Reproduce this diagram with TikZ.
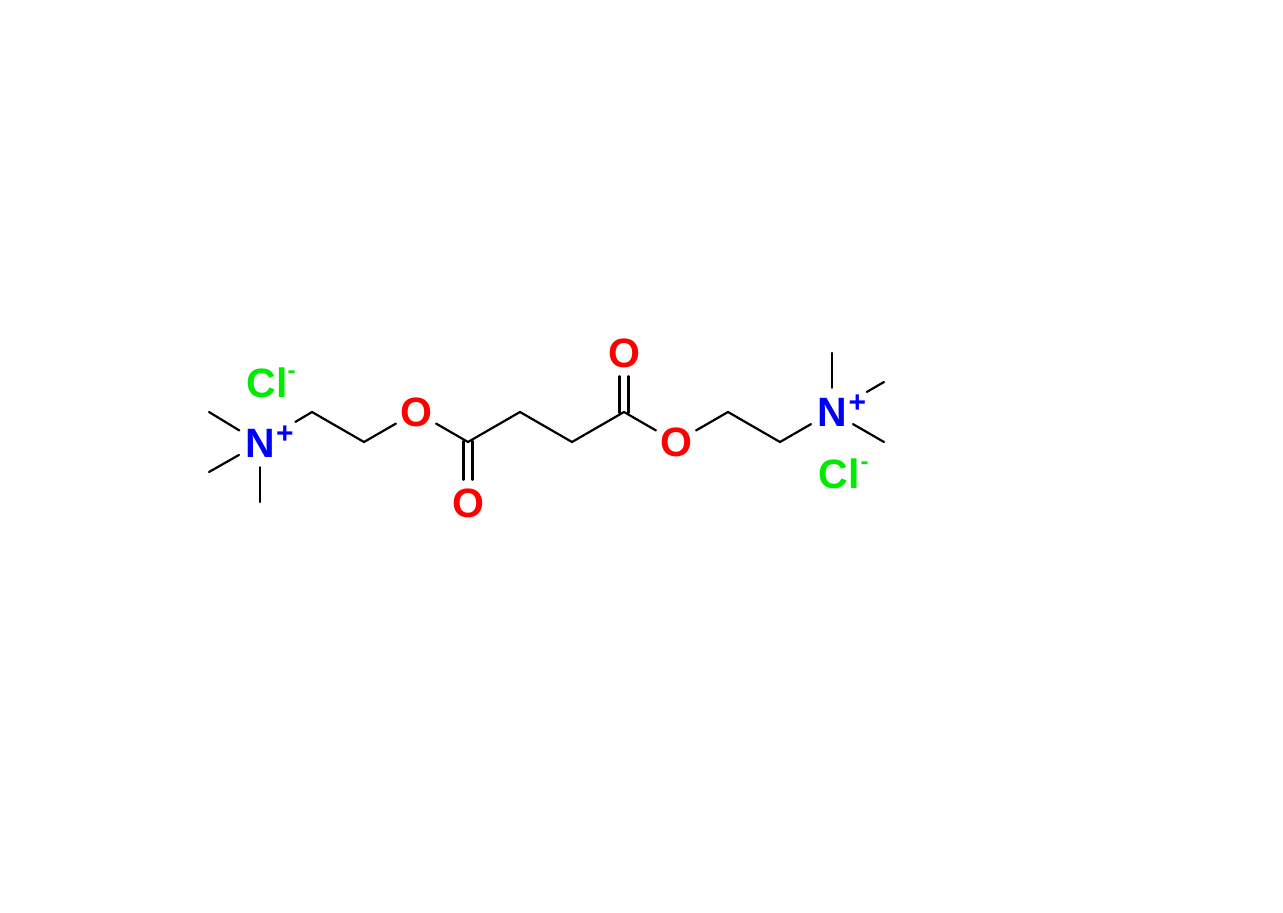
\documentclass[tikz,border=0pt]{standalone}
\usepackage{fontspec}
\setmainfont{Liberation Sans}
\begin{document}
\begin{tikzpicture}[x=1pt,y=-1pt,
  bond/.style={line width=2.2pt, line cap=round, line join=miter, black},
  atom/.style={circle, inner sep=0pt, minimum size=46pt, font=\bfseries\fontsize{41}{41}\selectfont},
  natom/.style={atom, minimum size=48pt, text=nblue},
  oatom/.style={atom, text=ored},
  clatom/.style={inner sep=0pt, font=\bfseries\fontsize{41}{41}\selectfont, text=clgreen},
  chgplus/.style={inner sep=0pt, font=\bfseries\fontsize{30}{30}\selectfont, text=nblue},
  chgminus/.style={inner sep=0pt, anchor=base, font=\bfseries\fontsize{24}{24}\selectfont, text=clgreen}]
\definecolor{nblue}{RGB}{0,0,255}
\definecolor{ored}{RGB}{255,0,0}
\definecolor{clgreen}{RGB}{0,235,0}
\useasboundingbox (0,0) rectangle (1283,913);
\fill[white] (0,0) rectangle (1283,913);
% atoms
\node[natom] (N1) at (260,443) {N};
\node[chgplus] (P1) at (285,435) {+};
\coordinate (Me1) at (209,412);
\coordinate (Me2) at (209,472);
\coordinate (Me3) at (260,502);
\coordinate (C1) at (312,412);
\coordinate (C2) at (364,442);
\node[oatom] (O1) at (416,412) {O};
\coordinate (C3) at (468,442);
\node[oatom] (O3) at (468,503) {O};
\coordinate (C4) at (520,412);
\coordinate (C5) at (572,442);
\coordinate (C6) at (624,412);
\node[oatom] (O4) at (624,353) {O};
\node[oatom] (O2) at (676,442) {O};
\coordinate (C7) at (728,412);
\coordinate (C8) at (780,442);
\node[natom] (N2) at (832,412) {N};
\node[chgplus] (P2) at (857.5,404) {+};
\coordinate (Me4) at (832,353);
\coordinate (Me5) at (884,382);
\coordinate (Me6) at (884,442);
\node[clatom] (Cl1) at (267,382.5) {Cl};
\node[chgminus] (M1) at (291.5,378) {-};
\node[clatom] (Cl2) at (839,473.5) {Cl};
\node[chgminus] (M2) at (864.5,469) {-};
% bonds
\draw[bond] (Me1) -- (N1);
\draw[bond] (Me2) -- (N1);
\draw[bond] (Me3) -- (N1);
\draw[bond, shorten <=17pt] (N1) -- (C1) -- (C2) -- (O1);
\draw[bond] (O1) -- (C3) -- (C4) -- (C5) -- (C6) -- (O2);
\draw[bond] (O2) -- (C7) -- (C8) -- (N2);
\draw[bond] (N2) -- (Me4);
\draw[bond, shorten <=16pt] (N2) -- (Me5);
\draw[bond] (N2) -- (Me6);
% carbonyl double bonds
\draw[bond] ([xshift=-4.5pt,yshift=1pt]C3) -- ([xshift=-4.5pt]O3.north);
\draw[bond] ([xshift=4.5pt,yshift=1pt]C3) -- ([xshift=4.5pt]O3.north);
\draw[bond] ([xshift=-4.5pt,yshift=-1pt]C6) -- ([xshift=-4.5pt]O4.south);
\draw[bond] ([xshift=4.5pt,yshift=-1pt]C6) -- ([xshift=4.5pt]O4.south);
\end{tikzpicture}
\end{document}
